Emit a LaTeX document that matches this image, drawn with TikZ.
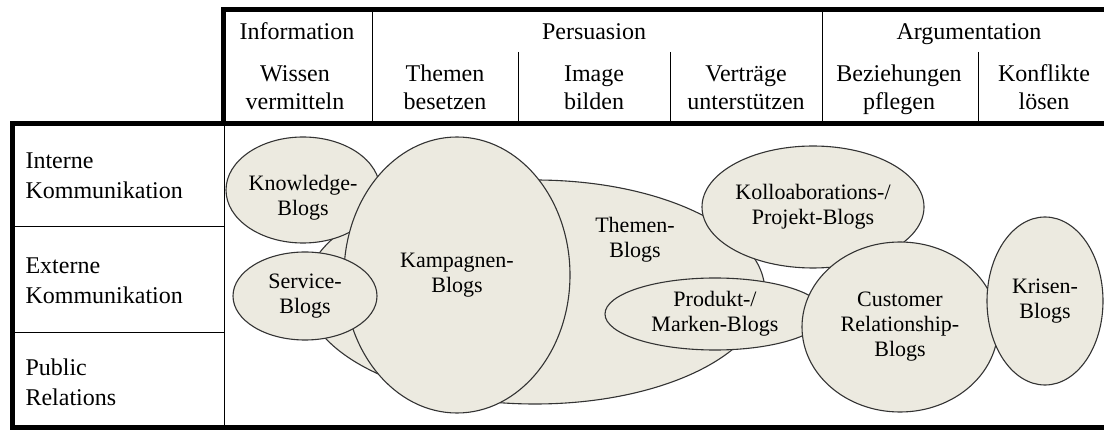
\documentclass[tikz,border=0pt]{standalone}
\usepackage{fontspec}
\setmainfont{Liberation Serif}
\usetikzlibrary{shapes.geometric}
\definecolor{blogfill}{RGB}{236,234,224}

\begin{document}
\begin{tikzpicture}[x=1pt,y=-1pt,
    blog/.style={ellipse,draw=black!80,line width=1.1pt,fill=blogfill,inner sep=0pt,align=center,font=\fontsize{22}{25}\selectfont},
    blogtext/.style={align=center,font=\fontsize{22}{25}\selectfont},
    head/.style={align=center,anchor=base,font=\fontsize{24}{28}\selectfont},
    rowlabel/.style={align=left,anchor=base west,font=\fontsize{24}{30}\selectfont},
    frame/.style={line width=5pt},
    grid/.style={line width=1pt}]

    \useasboundingbox (0,0) rectangle (1104,430);

    % header
    \node[head] (info) at (297,40) {Information};
    \node[head] (pers) at (594,40) {Persuasion};
    \node[head] (arg) at (969,40) {Argumentation};

    \node[head] (wissen) at (295,110) {Wissen\\vermitteln};
    \node[head] (themenbes) at (445,110) {Themen\\besetzen};
    \node[head] (image) at (594,110) {Image\\bilden};
    \node[head] (vertraege) at (746,110) {Verträge\\unterstützen};
    \node[head] (bez) at (899,110) {Beziehungen\\pflegen};
    \node[head] (konf) at (1044,110) {Konflikte\\lösen};

    % rows
    \node[rowlabel] (intern) at (22,199) {Interne\\Kommunikation};
    \node[rowlabel] (extern) at (22,304) {Externe\\Kommunikation};
    \node[rowlabel] (pr) at (22,406) {Public\\Relations};

    % frame and grid
    \draw[frame] (223,126) -- (223,10) -- (1110,10);
    \draw[frame] (1110,124) -- (12,124) -- (12,428) -- (1110,428);

    \draw[grid] (372,10) -- (372,124);
    \draw[grid] (822,10) -- (822,124);
    \draw[grid] (518,52) -- (518,124);
    \draw[grid] (670,52) -- (670,124);
    \draw[grid] (978,52) -- (978,124);
    \draw[grid] (224,124) -- (224,428);
    \draw[grid] (12,227) -- (224,227);
    \draw[grid] (12,333) -- (224,333);

    % blogs
    \node[blog,minimum width=460,minimum height=224] (themen) at (535,292) {};
    \node[blogtext] (themenlbl) at ([xshift=100pt,yshift=52pt]themen.center) {Themen-\\Blogs};
    \node[blog,minimum width=154,minimum height=106] (knowledge) at (303,190) {};
    \node[blogtext] (knowledgelbl) at ([yshift=-8pt]knowledge.center) {Knowledge-\\Blogs};
    \node[blog,minimum width=226,minimum height=276] (kampagnen) at (457,275) {Kampagnen-\\Blogs};
    \node[blog,minimum width=144,minimum height=88] (service) at (305,296) {Service-\\Blogs};
    \node[blog,minimum width=222,minimum height=122] (kollo) at (813,207) {Kolloaborations-/\\Projekt-Blogs};
    \node[blog,minimum width=220,minimum height=72] (produkt) at (715,314) {Produkt-/\\Marken-Blogs};
    \node[blog,minimum width=196,minimum height=170] (customer) at (900,327) {Customer\\Relationship-\\Blogs};
    \node[blog,minimum width=116,minimum height=168] (krisen) at (1045,301) {Krisen-\\Blogs};

\end{tikzpicture}
\end{document}
